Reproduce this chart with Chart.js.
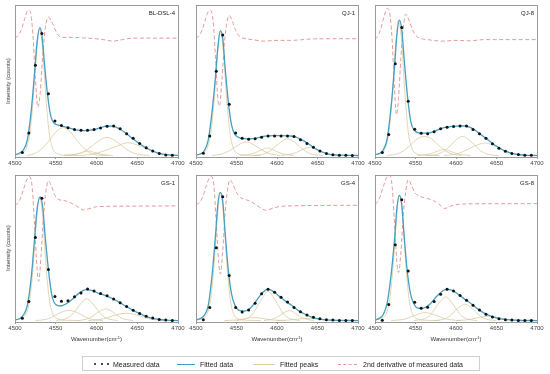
<!DOCTYPE html>
<html>
<head>
<meta charset="utf-8">
<script src="https://cdn.jsdelivr.net/npm/chart.js@4.4.1/dist/chart.umd.min.js"></script>
<style>
  body { margin: 0; background: #fff; }
  #wrap { position: relative; width: 550px; height: 374px; overflow: hidden; font-family: 'Liberation Sans', Arial, sans-serif; color: #333; }
  #wrap canvas { position: absolute; }
  .txt { position: absolute; white-space: nowrap; line-height: 1; }
  .ytitle { font-size: 6px; transform: translate(-50%, -50%) rotate(-90deg); }
  .xtitle { font-size: 6px; transform: translate(-50%, -50%); }
  .xtitle sup { font-size: 4px; vertical-align: 2px; }
  .sample { font-size: 6px; transform: translate(-100%, -50%); color: #222; }
  #legend { position: absolute; left: 82px; top: 356px; width: 398px; height: 15px; border: 1px solid #cfcfcf; box-sizing: border-box; }
  .leg { position: absolute; font-size: 7px; top: 364px; transform: translateY(-50%); white-space: nowrap; color: #222; }
  .dot { position: absolute; width: 2.4px; height: 2.4px; border-radius: 50%; background: #111; top: 362.8px; }
  .ln { position: absolute; top: 363.5px; height: 0; }
</style>
</head>
<body>
<div id="wrap">
  <div id="legend"></div>
</div>
<script>
//*****************************************************************************************
// datos (eje y en unidades relativas 0-100)

const xTicks = [4500, 4550, 4600, 4650, 4700];
const measuredX = [4509, 4517, 4525, 4533, 4541, 4549, 4557, 4565, 4573, 4581, 4589, 4597, 4605, 4613, 4621, 4629, 4637, 4645, 4653, 4661, 4669, 4677, 4685, 4693];

// BL-DSL-4
const bl4Measured = [2, 15, 60, 81, 41, 23, 20, 18.5, 17.2, 16.8, 16.8, 17.2, 18.3, 19.4, 19.6, 17.8, 14.5, 11.5, 8, 5.2, 3, 1.3, 0.4, 0.1];
const bl4Fitted = [[4500,0.5],[4505,1.5],[4510,3.5],[4515,10],[4520,30],[4524,55],[4527,75],[4530.5,85],[4533,80],[4536,62],[4540,40],[4544,26],[4548,21.5],[4555,20],[4565,18.5],[4575,17],[4585,16.5],[4595,17],[4605,18.5],[4613,19.6],[4620,19.5],[4628,17.8],[4636,14.8],[4645,11],[4655,7],[4665,4],[4675,1.8],[4685,0.6],[4700,0.1]];
const bl4Peaks = [
  [[4500,0.3],[4508,1.5],[4514,5],[4518,14],[4522,35],[4526,65],[4530,84],[4534,70],[4538,38],[4542,15],[4546,5],[4552,1.2],[4562,0.2],[4580,0]],
  [[4515,0],[4525,1.5],[4533,4.5],[4542,10],[4550,15.5],[4559,18.5],[4568,15.5],[4576,10],[4585,4.5],[4593,1.5],[4603,0.2],[4615,0]],
  [[4560,0],[4572,0.6],[4580,1.6],[4590,3],[4600,1.6],[4608,0.6],[4620,0]],
  [[4560,0],[4577,1],[4586,3],[4595,6.5],[4604,10.2],[4613,12],[4622,10.2],[4631,6.5],[4640,3],[4649,1],[4665,0]],
  [[4580,0],[4592,0.6],[4602,1.8],[4614,4],[4626,6.5],[4638,8.5],[4650,7],[4662,4.2],[4674,1.8],[4684,0.6],[4698,0]]
];
const bl4Deriv = [[4500,78.5],[4504,79.5],[4508,84],[4512,91],[4516,96.5],[4519,95],[4522,80],[4525,52],[4528,32],[4531,42],[4534,66],[4537,84],[4541,92],[4545,89],[4549,84],[4553,80],[4558,78.5],[4570,78.5],[4582,78.2],[4595,77.8],[4608,77],[4620,76],[4632,77],[4645,78],[4700,78]];

// QJ-1
const qj1Measured = [1.5, 13, 56, 80, 34, 15, 11.5, 10.8, 11.2, 12.2, 13, 13, 13, 13, 12.6, 10.5, 8, 5.5, 3, 1.3, 0.5, 0.2, 0.1, 0];
const qj1Fitted = [[4500,0.3],[4505,1],[4510,3],[4515,10],[4520,30],[4524,52],[4527,72],[4530,83],[4533,78],[4536,58],[4540,35],[4544,20],[4548,14],[4555,11.5],[4565,11],[4575,11.5],[4585,12.8],[4595,13.2],[4605,13.2],[4615,13],[4622,12.5],[4630,10.5],[4638,8],[4646,5],[4655,2.5],[4665,0.8],[4680,0.2],[4700,0]];
const qj1Peaks = [
  [[4500,0.3],[4508,1.5],[4514,5],[4518,14],[4522,34],[4526,64],[4530,82],[4534,68],[4538,37],[4542,15],[4546,5],[4552,1.2],[4562,0.2],[4580,0]],
  [[4520,0],[4532,1],[4540,2.8],[4548,5.5],[4555,7.8],[4562,9],[4569,7.8],[4576,5.5],[4584,2.8],[4592,1],[4604,0]],
  [[4555,0],[4566,0.8],[4574,2],[4581,3.8],[4588,5],[4595,3.8],[4602,2],[4610,0.8],[4621,0]],
  [[4570,0],[4584,1],[4591,3],[4598,6],[4606,9.4],[4613,11],[4620,9.4],[4628,6],[4635,3],[4642,1],[4656,0]],
  [[4605,0],[4616,0.8],[4624,2],[4632,4],[4640,5.4],[4648,4],[4656,2],[4664,0.8],[4675,0]]
];
const qj1Deriv = [[4500,78],[4504,79.5],[4508,84],[4512,91],[4515,95.5],[4518,96.5],[4521,90],[4524,66],[4527,37],[4529,33],[4532,50],[4535,74],[4538,88],[4541,93],[4545,89],[4549,83],[4553,79.5],[4558,78],[4570,77],[4583,76],[4600,76.5],[4615,76.5],[4628,76.8],[4645,77.5],[4700,77.6]];

// QJ-8
const qj8Measured = [2, 14, 61, 85, 36, 17.5, 14.8, 14.5, 15.8, 17.8, 18.8, 19.2, 19.6, 19.6, 17.2, 14.5, 11.5, 7.8, 4.8, 2.8, 1.4, 0.6, 0.2, 0.1];
const qj8Fitted = [[4500,0.5],[4505,1.2],[4510,3.5],[4515,11],[4520,33],[4524,58],[4527,80],[4530,90],[4533,84],[4536,64],[4540,40],[4544,23],[4548,17],[4555,15],[4565,14.8],[4575,16.5],[4585,18.5],[4595,19.3],[4605,19.7],[4612,19.6],[4620,18],[4628,15],[4636,11.8],[4645,8],[4655,4.5],[4665,2],[4675,0.8],[4685,0.3],[4700,0]];
const qj8Peaks = [
  [[4500,0.4],[4507,1.6],[4513,5.5],[4517,15],[4521,38],[4525,70],[4529,90],[4533,75],[4537,41],[4541,16],[4545,5.5],[4551,1.3],[4561,0.2],[4580,0]],
  [[4515,0],[4527,1],[4535,3],[4544,7],[4552,11],[4561,12.7],[4570,11],[4578,7],[4587,3],[4595,1],[4607,0]],
  [[4552,0],[4563,0.6],[4571,1.6],[4578,3],[4585,4],[4592,3],[4599,1.6],[4607,0.6],[4618,0]],
  [[4563,0],[4578,1],[4586,3.2],[4594,7],[4601,10.8],[4608,12.7],[4615,10.8],[4623,7],[4630,3.2],[4638,1],[4653,0]],
  [[4585,0],[4600,0.9],[4609,2.6],[4618,5],[4627,7.2],[4636,8.3],[4645,7.2],[4654,5],[4663,2.6],[4672,0.9],[4688,0]]
];
const qj8Deriv = [[4500,77.4],[4503,79],[4507,84],[4511,92],[4515,97.8],[4518,95],[4521,78],[4524,45],[4526.5,27],[4529,38],[4532,65],[4535,85],[4538,93.9],[4542,90],[4546,84],[4550,80],[4555,78],[4565,77],[4583,76],[4600,76.5],[4616,76.2],[4635,77],[4700,77]];

// GS-1
const gs1Measured = [1.6, 13, 57, 84, 35, 16.5, 13.3, 13.6, 16.3, 19, 21.6, 20.3, 18.5, 17, 14.8, 12.3, 9.6, 7, 4.8, 3, 1.7, 0.8, 0.3, 0.1];
const gs1Fitted = [[4500,0.4],[4505,1.2],[4510,3.5],[4515,10],[4520,30],[4524,56],[4527,76],[4531,85],[4534,78],[4537,58],[4541,35],[4545,18],[4550,11],[4556,10],[4563,11.5],[4570,14.5],[4578,18.5],[4587,21.3],[4595,20.5],[4603,18.5],[4612,17],[4620,15],[4628,12.5],[4636,9.8],[4645,7],[4655,4.2],[4665,2],[4675,0.9],[4685,0.3],[4700,0]];
const gs1Peaks = [
  [[4500,0.3],[4508,1.5],[4514,5],[4518,14],[4522,35],[4526,66],[4530,85],[4534,71],[4538,38],[4542,15],[4546,5],[4552,1.2],[4562,0.2],[4580,0]],
  [[4525,0],[4538,0.8],[4545,2.2],[4552,4.5],[4559,6.2],[4566,7],[4573,6.2],[4580,4.5],[4587,2.2],[4594,0.8],[4608,0]],
  [[4550,0],[4562,1.2],[4569,3.5],[4575,7.5],[4582,12.5],[4588,15],[4594,12.5],[4601,7.5],[4607,3.5],[4614,1.2],[4626,0]],
  [[4578,0],[4588,1],[4594,2.5],[4600,5],[4606,7],[4611,8],[4617,7],[4622,5],[4628,2.5],[4634,1],[4645,0]],
  [[4590,0],[4603,0.6],[4611,1.6],[4619,3],[4628,4.4],[4637,5],[4646,4.4],[4654,3],[4662,1.6],[4671,0.6],[4684,0]]
];
const gs1Deriv = [[4500,79.3],[4504,81],[4508,86],[4512,93],[4515,97.5],[4518,98.9],[4521,92],[4524,66],[4527,36],[4529,27],[4532,45],[4535,72],[4538,89],[4541,96],[4545,92],[4549,86],[4554,83],[4560,82.5],[4568,81],[4576,78.5],[4584,76],[4592,77],[4600,78.2],[4620,78.5],[4700,78.8]];

// GS-4
const gs4Measured = [0.6, 9, 50, 85, 31, 9, 5.8, 7.2, 11.8, 18.4, 21.5, 19.5, 16, 12.8, 9, 6, 3.8, 2.2, 1.2, 0.6, 0.3, 0.1, 0.05, 0];
const gs4Fitted = [[4500,0.5],[4505,1.3],[4510,3.5],[4515,10],[4520,32],[4524,58],[4527,80],[4530,88],[4533,82],[4536,60],[4540,34],[4544,18],[4548,10.5],[4553,7],[4560,6.5],[4567,8.5],[4575,14],[4582,19],[4588,21.4],[4594,20.6],[4602,17],[4610,13.5],[4618,10.5],[4626,7],[4634,4.5],[4642,2.5],[4650,1.3],[4660,0.5],[4675,0.1],[4700,0]];
const gs4Peaks = [
  [[4500,0.3],[4508,1.5],[4514,5],[4518,14],[4522,36],[4526,68],[4530,88],[4534,73],[4538,40],[4542,16],[4546,5],[4552,1.2],[4562,0.2],[4580,0]],
  [[4535,0],[4548,0.3],[4558,1],[4565,1.7],[4572,2],[4579,1.7],[4586,1],[4596,0.3],[4610,0]],
  [[4550,0],[4563,1.5],[4570,4.5],[4576,10],[4583,16.5],[4589,20],[4595,16.5],[4602,10],[4608,4.5],[4615,1.5],[4628,0]],
  [[4584,0],[4593,0.8],[4599,2],[4605,4],[4610,5.9],[4615,6.8],[4620,5.9],[4625,4],[4631,2],[4637,0.8],[4646,0]],
  [[4600,0],[4612,0.2],[4621,0.7],[4630,1.2],[4638,1.5],[4646,1.2],[4655,0.7],[4664,0.2],[4676,0]]
];
const gs4Deriv = [[4500,79.6],[4505,81.5],[4509,86],[4513,93],[4516,97.5],[4519,99],[4522,93],[4525,68],[4528,40],[4530,32],[4533,48],[4536,74],[4539,90],[4542,96.8],[4546,93],[4550,88],[4555,84.5],[4562,83],[4569,81.4],[4578,78],[4586,75.8],[4594,77],[4600,78],[4620,78.8],[4700,79.2]];

// GS-8
const gs8Measured = [0.2, 11, 52, 83, 34, 12.5, 8.5, 9.2, 13, 18, 21.5, 20.3, 17.2, 14, 10.5, 7.2, 4.4, 2.5, 1.3, 0.6, 0.3, 0.1, 0.05, 0];
const gs8Fitted = [[4500,0.3],[4505,1.5],[4510,4],[4515,12],[4520,32],[4524,55],[4527,77],[4530,86],[4533,80],[4536,58],[4540,33],[4544,18],[4548,11.5],[4553,8.5],[4560,8.6],[4568,11.3],[4576,16.5],[4584,20.5],[4589,21.5],[4596,20.5],[4604,17.5],[4612,14.2],[4620,11],[4628,7.5],[4636,4.8],[4644,2.8],[4652,1.5],[4662,0.6],[4675,0.2],[4700,0]];
const gs8Peaks = [
  [[4500,0.3],[4508,1.5],[4514,5],[4518,14],[4522,35],[4526,66],[4530,86],[4534,72],[4538,39],[4542,15],[4546,5],[4552,1.2],[4562,0.2],[4580,0]],
  [[4520,0],[4533,0.6],[4541,1.7],[4549,3.5],[4556,4.9],[4562,5.5],[4568,4.9],[4576,3.5],[4584,1.7],[4592,0.6],[4606,0]],
  [[4548,0],[4561,1.2],[4568,3.7],[4574,8.2],[4581,13.5],[4587,16.3],[4593,13.5],[4600,8.2],[4606,3.7],[4613,1.2],[4626,0]],
  [[4573,0],[4585,1],[4592,3],[4598,6.2],[4605,9.6],[4611,11.3],[4617,9.6],[4624,6.2],[4630,3],[4637,1],[4650,0]],
  [[4600,0],[4612,0.4],[4621,1.2],[4630,2.3],[4640,3],[4650,2.3],[4659,1.2],[4668,0.4],[4680,0]]
];
const gs8Deriv = [[4500,80.3],[4504,82],[4508,88],[4512,95],[4515,99],[4518,100],[4521,93],[4524,68],[4527,40],[4529,33],[4532,47],[4535,73],[4538,89],[4541,96.8],[4545,93],[4549,88],[4555,85.5],[4563,84],[4572,82.5],[4580,79.5],[4586,77],[4593,78.5],[4600,79.6],[4620,80.2],[4700,80.3]];

//*****************************************************************************************

const colores = {
  medido: "#111111",
  ajuste: "#459fc2",
  picos: "#d8cca4",
  derivada: "#e59a9a",
  marco: "#9a9a9a",
};

// posicion de los marcos (px) por columna y fila
const columnas = [[15, 178], [196, 358], [375, 537]];
const filas = [[4, 157], [174, 322]];

const paneles = [
  { nombre: "BL-DSL-4", medido: bl4Measured, ajuste: bl4Fitted, picos: bl4Peaks, derivada: bl4Deriv, col: 0, fila: 0 },
  { nombre: "QJ-1", medido: qj1Measured, ajuste: qj1Fitted, picos: qj1Peaks, derivada: qj1Deriv, col: 1, fila: 0 },
  { nombre: "QJ-8", medido: qj8Measured, ajuste: qj8Fitted, picos: qj8Peaks, derivada: qj8Deriv, col: 2, fila: 0 },
  { nombre: "GS-1", medido: gs1Measured, ajuste: gs1Fitted, picos: gs1Peaks, derivada: gs1Deriv, col: 0, fila: 1 },
  { nombre: "GS-4", medido: gs4Measured, ajuste: gs4Fitted, picos: gs4Peaks, derivada: gs4Deriv, col: 1, fila: 1 },
  { nombre: "GS-8", medido: gs8Measured, ajuste: gs8Fitted, picos: gs8Peaks, derivada: gs8Deriv, col: 2, fila: 1 },
];

Chart.defaults.font.family = "'Liberation Sans', Arial, sans-serif";
Chart.defaults.color = "#444";

// dibuja el marco completo alrededor del area del grafico
const marcoPlugin = {
  id: "marco",
  afterDraw(chart) {
    const a = chart.chartArea;
    const ctx = chart.ctx;
    ctx.save();
    ctx.strokeStyle = colores.marco;
    ctx.lineWidth = 1;
    ctx.strokeRect(Math.round(a.left) + 0.5, Math.round(a.top) + 0.5, Math.round(a.right - a.left), Math.round(a.bottom - a.top));
    ctx.restore();
  },
};

const wrap = document.getElementById("wrap");

function agregaTexto(clase, html, x, y) {
  const d = document.createElement("div");
  d.className = "txt " + clase;
  d.innerHTML = html;
  d.style.left = x + "px";
  d.style.top = y + "px";
  wrap.appendChild(d);
}

function dibujaPanel(p) {
  const L = columnas[p.col][0], R = columnas[p.col][1];
  const T = filas[p.fila][0], B = filas[p.fila][1];
  const padL = 12, padT = 3, ejeX = 14;

  const canvas = document.createElement("canvas");
  canvas.width = R - L + padL * 2;
  canvas.height = B - T + padT + ejeX;
  canvas.style.left = (L - padL) + "px";
  canvas.style.top = (T - padT) + "px";
  wrap.appendChild(canvas);

  const datasets = [];
  datasets.push({
    data: measuredX.map((x, i) => [x, p.medido[i]]),
    showLine: false,
    pointRadius: 1.5,
    pointBackgroundColor: colores.medido,
    pointBorderWidth: 0,
    order: 0,
  });
  datasets.push({
    data: p.ajuste,
    showLine: true,
    pointRadius: 0,
    borderColor: colores.ajuste,
    borderWidth: 1.3,
    cubicInterpolationMode: "monotone",
    order: 1,
  });
  datasets.push({
    data: p.derivada,
    showLine: true,
    pointRadius: 0,
    borderColor: colores.derivada,
    borderWidth: 1,
    borderDash: [4, 2.5],
    cubicInterpolationMode: "monotone",
    order: 2,
  });
  p.picos.forEach(function (pico) {
    datasets.push({
      data: pico,
      showLine: true,
      pointRadius: 0,
      borderColor: colores.picos,
      borderWidth: 0.8,
      cubicInterpolationMode: "monotone",
      order: 3,
    });
  });

  new Chart(canvas.getContext("2d"), {
    type: "scatter",
    data: { datasets: datasets },
    options: {
      responsive: false,
      animation: false,
      devicePixelRatio: 1,
      layout: { padding: { left: padL, right: padL, top: padT, bottom: 0 } },
      plugins: { legend: { display: false }, tooltip: { enabled: false } },
      scales: {
        x: {
          type: "linear",
          min: 4500,
          max: 4700,
          afterFit: function (scale) { scale.height = ejeX; },
          afterBuildTicks: function (scale) { scale.ticks = xTicks.map(v => ({ value: v })); },
          border: { display: false },
          grid: { drawOnChartArea: false, drawTicks: true, tickLength: 2, color: colores.marco },
          ticks: { font: { size: 6 }, padding: 1, maxRotation: 0, autoSkip: false, callback: v => String(v) },
        },
        y: { display: false, min: -1, max: 100 },
      },
    },
    plugins: [marcoPlugin],
  });

  agregaTexto("sample", p.nombre, R - 3, T + 9);
  if (p.col === 0) agregaTexto("ytitle", "Intensity (counts)", 8, (T + B) / 2);
  if (p.fila === 1) agregaTexto("xtitle", "Wavenumber(cm<sup>-1</sup>)", (L + R) / 2, 339);
}

paneles.forEach(dibujaPanel);

// leyenda inferior
function leyenda() {
  [94, 100.5, 107].forEach(function (x) {
    const d = document.createElement("div");
    d.className = "dot";
    d.style.left = x + "px";
    wrap.appendChild(d);
  });
  const lineas = [
    { x0: 177, x1: 195, estilo: "1.3px solid " + colores.ajuste },
    { x0: 253, x1: 275, estilo: "1px solid " + colores.picos },
    { x0: 338, x1: 357, estilo: "1px dashed " + colores.derivada },
  ];
  lineas.forEach(function (l) {
    const d = document.createElement("div");
    d.className = "ln";
    d.style.left = l.x0 + "px";
    d.style.width = (l.x1 - l.x0) + "px";
    d.style.borderTop = l.estilo;
    wrap.appendChild(d);
  });
  const textos = [[113, "Measured data"], [200, "Fitted data"], [280, "Fitted peaks"], [363, "2nd derivative of measured data"]];
  textos.forEach(function (t) {
    const d = document.createElement("div");
    d.className = "leg";
    d.style.left = t[0] + "px";
    d.textContent = t[1];
    wrap.appendChild(d);
  });
}

leyenda();
</script>
</body>
</html>
